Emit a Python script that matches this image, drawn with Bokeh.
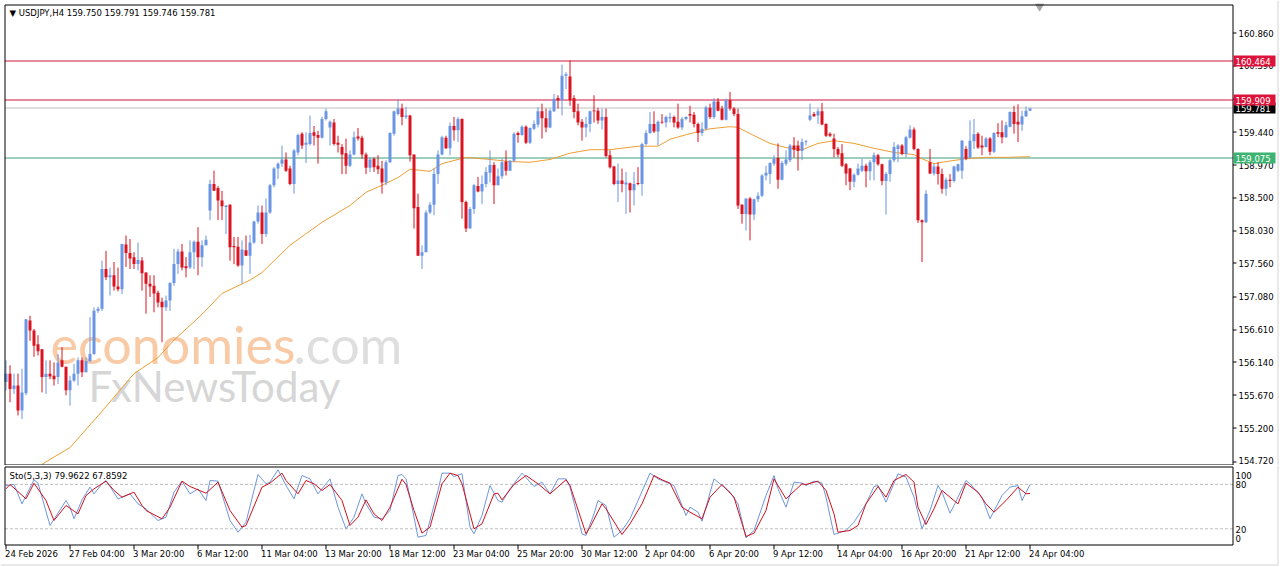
import numpy as np
from bokeh.plotting import figure
from bokeh.models import ColumnDataSource, Range1d
from bokeh.layouts import column
from bokeh.embed import file_html
from bokeh.resources import INLINE
from bokeh.core.properties import value

# ---------------- data (USDJPY H4) ----------------
bar_open = [
155.86,155.98,155.76,155.81,155.45,155.70,156.74,156.60,156.40,156.33,155.93,155.98,155.95,155.93,156.17,156.08,
155.74,155.88,155.98,156.17,156.00,156.16,156.26,156.88,156.91,157.48,157.36,157.39,157.23,157.19,157.83,157.71,
157.65,157.55,157.60,157.43,157.27,157.24,157.14,157.01,156.93,157.03,157.28,157.55,157.73,157.52,157.50,157.72,
157.87,157.65,157.82,158.32,158.70,158.64,158.46,158.37,158.40,157.81,157.80,157.53,157.75,157.67,157.86,158.16,
158.29,157.98,158.29,158.68,158.92,158.99,159.05,158.92,158.70,159.15,159.42,159.26,159.27,159.44,159.40,159.36,
159.63,159.51,159.58,159.29,159.23,159.14,158.96,159.12,159.38,159.36,159.12,158.93,159.06,158.96,158.92,158.72,
159.01,159.42,159.70,159.78,159.66,159.68,159.12,158.37,157.67,157.72,158.29,158.40,158.84,159.12,159.36,159.21,
159.53,159.47,159.63,158.44,158.06,158.34,158.67,158.59,158.70,158.86,158.97,158.68,158.81,159.02,158.89,159.03,
159.43,159.40,159.52,159.29,159.49,159.55,159.74,159.64,159.51,159.74,159.93,159.90,160.25,160.24,159.93,159.74,
159.59,159.51,159.56,159.75,159.75,159.61,159.66,159.11,158.95,158.70,158.75,158.69,158.71,158.61,158.71,158.70,
159.27,159.43,159.56,159.45,159.59,159.58,159.64,159.66,159.59,159.51,159.63,159.70,159.69,159.56,159.43,159.49,
159.79,159.66,159.88,159.78,159.62,159.90,159.78,159.70,158.40,158.27,158.49,158.26,158.48,158.53,158.82,158.84,
158.99,159.07,158.76,158.99,159.04,159.25,159.25,159.17,159.30,159.62,159.70,159.68,159.74,159.56,159.42,159.35,
159.20,159.14,158.98,158.92,158.73,158.83,158.89,158.96,158.88,159.01,159.11,158.98,158.74,158.84,159.04,159.20,
159.25,159.13,159.36,159.48,159.20,158.18,158.15,159.01,158.85,158.95,158.84,158.63,158.76,158.74,158.89,158.89,
159.20,159.08,159.31,159.42,159.25,159.23,159.35,159.16,159.44,159.44,159.37,159.52,159.73,159.59,159.55,159.67,
159.750]
bar_high = [
156.17,156.10,155.98,155.98,156.05,156.76,156.81,156.62,156.53,156.33,156.17,156.17,156.14,156.26,156.36,156.08,
155.95,156.12,156.21,156.21,156.21,156.79,156.93,156.94,157.60,157.74,157.50,157.58,157.50,157.84,157.96,157.91,
157.72,157.86,157.65,157.43,157.39,157.39,157.17,157.07,157.10,157.29,157.77,157.77,157.84,157.65,157.89,157.89,
158.08,157.89,157.96,158.76,158.89,158.67,158.60,158.39,158.41,157.94,157.94,157.89,157.96,157.97,158.17,158.39,
158.39,158.49,158.70,158.94,159.01,159.25,159.15,158.96,159.20,159.42,159.44,159.44,159.68,159.53,159.46,159.66,
159.78,159.61,159.63,159.39,159.27,159.35,159.18,159.45,159.50,159.39,159.15,159.08,159.08,159.11,159.03,159.04,
159.44,159.75,159.91,159.85,159.80,159.69,159.12,158.56,157.82,158.32,158.44,158.92,159.18,159.39,159.39,159.58,
159.66,159.66,159.64,158.46,158.37,158.70,158.80,158.82,158.94,159.18,159.01,158.92,159.06,159.18,159.04,159.44,
159.45,159.54,159.54,159.51,159.61,159.80,159.85,159.78,159.78,159.99,159.97,160.41,160.30,160.47,159.97,159.85,
159.63,159.66,159.75,159.97,159.79,159.78,159.78,159.18,158.96,158.99,158.92,158.87,158.72,158.87,158.94,159.29,
159.47,159.73,159.74,159.61,159.70,159.68,159.72,159.68,159.85,159.66,159.67,159.82,159.73,159.58,159.58,159.82,
159.85,159.93,159.93,159.82,159.92,160.02,159.80,159.78,158.41,158.49,158.51,158.49,158.58,158.84,158.96,159.01,
159.11,159.28,159.03,159.18,159.27,159.37,159.32,159.35,159.33,159.85,159.73,159.78,159.86,159.57,159.44,159.42,
159.23,159.27,159.00,158.93,158.85,158.99,159.06,158.99,159.04,159.15,159.13,158.99,158.87,159.06,159.30,159.27,
159.27,159.39,159.54,159.51,159.21,158.19,158.61,159.20,158.99,159.01,158.92,158.79,158.84,158.96,158.99,159.33,
159.24,159.61,159.63,159.44,159.39,159.37,159.37,159.44,159.57,159.61,159.59,159.74,159.82,159.84,159.75,159.81,
159.791]
bar_low = [
155.74,155.57,155.69,155.38,155.33,155.67,156.45,156.22,156.24,155.71,155.69,155.90,155.81,155.83,156.07,155.67,
155.52,155.86,155.81,155.93,156.00,156.14,156.25,156.85,156.88,157.32,157.10,157.17,157.16,157.12,157.51,157.48,
157.48,157.46,157.17,156.84,157.08,156.86,156.93,156.43,156.88,156.88,157.24,157.41,157.46,157.36,157.48,157.48,
157.39,157.51,157.82,158.18,158.60,158.18,158.18,157.98,157.60,157.55,157.51,157.27,157.67,157.41,157.84,158.13,
157.84,157.94,158.27,158.65,158.77,158.94,158.87,158.68,158.56,159.11,159.20,159.00,159.25,159.25,158.99,159.35,
159.61,159.25,159.25,159.15,158.84,158.84,158.94,159.11,159.32,159.06,158.84,158.87,158.87,158.84,158.56,158.68,
159.00,159.39,159.68,159.54,159.63,159.02,158.06,157.67,157.48,157.72,158.27,158.25,158.70,159.11,159.20,159.11,
159.32,159.30,158.20,158.01,158.06,158.27,158.58,158.41,158.65,158.72,158.41,158.68,158.77,158.82,158.89,159.01,
159.29,159.39,159.27,159.27,159.47,159.51,159.35,159.44,159.50,159.73,159.78,159.68,160.06,159.82,159.64,159.54,
159.32,159.37,159.44,159.58,159.56,159.48,159.08,158.92,158.68,158.44,158.58,158.27,158.29,158.39,158.68,158.53,
159.25,159.42,159.43,159.25,159.56,159.51,159.58,159.51,159.49,159.47,159.61,159.58,159.51,159.30,159.39,159.47,
159.63,159.63,159.74,159.61,159.61,159.75,159.67,158.34,158.13,158.03,157.89,158.18,158.44,158.51,158.75,158.70,
158.96,158.63,158.75,158.96,159.01,159.08,158.89,159.04,159.25,159.60,159.66,159.56,159.54,159.37,159.37,159.08,
159.08,158.94,158.68,158.61,158.65,158.82,158.87,158.65,158.75,158.75,158.96,158.68,158.26,158.73,159.01,159.01,
159.11,159.08,159.35,159.18,158.14,157.58,158.14,158.84,158.82,158.69,158.56,158.53,158.65,158.72,158.87,158.77,
159.04,159.06,159.20,159.20,159.11,159.22,159.11,159.14,159.37,159.28,159.36,159.51,159.42,159.30,159.46,159.66,
159.746]
bar_close = [
155.98,155.76,155.81,155.45,155.71,156.76,156.60,156.38,156.30,155.93,155.98,155.94,155.90,156.14,156.08,155.74,
155.88,155.98,156.17,156.00,156.16,156.26,156.88,156.91,157.48,157.36,157.39,157.23,157.19,157.84,157.71,157.63,
157.55,157.61,157.42,157.27,157.23,157.13,157.00,156.93,157.03,157.28,157.55,157.73,157.50,157.49,157.72,157.87,
157.65,157.82,157.90,158.70,158.60,158.46,158.38,158.39,157.79,157.79,157.53,157.76,157.67,157.86,158.16,158.29,
157.98,158.29,158.68,158.92,158.99,159.05,158.89,158.70,159.18,159.40,159.25,159.29,159.43,159.39,159.36,159.63,
159.74,159.59,159.27,159.26,159.12,158.96,159.12,159.37,159.35,159.12,158.93,159.05,158.94,158.91,158.72,159.01,
159.43,159.74,159.78,159.66,159.68,159.11,158.35,157.67,157.72,158.29,158.40,158.84,159.12,159.37,159.21,159.53,
159.47,159.63,158.44,158.06,158.34,158.68,158.59,158.70,158.87,158.97,158.68,158.81,159.01,158.89,159.03,159.42,
159.40,159.52,159.29,159.50,159.56,159.74,159.64,159.51,159.75,159.92,159.90,160.25,160.27,159.90,159.73,159.58,
159.51,159.56,159.74,159.74,159.61,159.66,159.10,158.94,158.70,158.75,158.70,158.72,158.61,158.70,158.70,159.27,
159.43,159.56,159.45,159.59,159.58,159.66,159.66,159.58,159.51,159.63,159.66,159.68,159.56,159.43,159.49,159.80,
159.66,159.88,159.75,159.62,159.90,159.78,159.70,158.39,158.27,158.49,158.26,158.48,158.53,158.82,158.86,159.00,
159.06,158.76,159.00,159.05,159.25,159.19,159.17,159.30,159.31,159.68,159.67,159.74,159.55,159.39,159.39,159.20,
159.12,158.96,158.85,158.73,158.83,158.92,158.96,158.88,159.01,159.11,158.98,158.74,158.84,159.04,159.23,159.25,
159.13,159.37,159.48,159.20,158.18,158.15,158.56,158.85,158.95,158.84,158.63,158.76,158.74,158.95,158.98,159.32,
159.06,159.32,159.41,159.22,159.22,159.35,159.16,159.43,159.42,159.37,159.54,159.73,159.56,159.55,159.67,159.75,
159.781]

# moving average (bar index, price)
ma_points = [(9,154.68),(11,154.75),(16,154.92),(24,155.44),(32,155.98),(38,156.21),(42,156.46),(49,156.83),
             (54,157.13),(61,157.32),(64,157.43),(71,157.82),(79,158.15),(86,158.39),(90,158.58),(94,158.68),
             (98,158.79),(101,158.91),(106,158.88),(109,158.99),(115,159.08),(121,159.05),(126,159.02),
             (131,159.01),(136,159.05),(141,159.14),(146,159.19),(151,159.19),(158,159.24),(163,159.24),
             (166,159.34),(171,159.42),(176,159.49),(181,159.52),(183,159.51),(186,159.42),(191,159.28),
             (195,159.22),(199,159.19),(203,159.28),(207,159.32),(212,159.28),(217,159.21),(222,159.15),
             (227,159.12),(229,159.06),(232,158.99),(235,159.02),(240,159.06),(245,159.08),(250,159.08),(256,159.09)]

# stochastic (5,3,3): main (%K, blue) and signal (%D, red) vertices
sto_main = [(0,78.5),(2,79.9),(4,53.7),(7,86.2),(8,81.7),(11,24.5),(15,58.2),(16,49.2),(17,33.5),(19,59.1),
            (21,76.3),(22,67.2),(24,80.8),(25,85.3),(28,60.5),(31,67.2),(33,53.7),(35,47.0),(38,31.2),(40,35.7),
            (42,69.5),(44,84.4),(46,67.2),(48,74.0),(50,58.2),(51,85.3),(53,84.4),(56,31.2),(58,15.4),(60,29.0),
            (63,93.4),(65,80.8),(66,83.0),(68,99.7),(70,78.5),(72,60.5),(74,92.0),(76,87.5),(78,67.2),(80,80.8),
            (81,87.5),(83,49.2),(85,20.0),(87,35.7),(89,67.2),(90,53.7),(92,35.7),(94,33.5),(96,44.7),(98,92.0),
            (99,93.4),(100,87.5),(101,62.7),(103,8.7),(105,11.0),(108,71.8),(109,95.2),(111,95.2),(112,90.7),
            (114,94.3),(116,22.2),(117,13.2),(119,38.0),(121,78.5),(123,58.2),(124,56.0),(126,74.0),(129,95.2),
            (132,77.2),(134,83.0),(136,67.2),(138,87.5),(140,87.5),(141,76.3),(144,13.2),(145,11.0),(147,40.2),
            (148,58.2),(150,51.5),(152,8.7),(154,17.7),(156,33.5),(158,58.2),(161,95.2),(163,87.5),(165,83.0),
            (167,78.5),(170,38.0),(171,49.2),(173,42.5),(174,30.3),(177,87.5),(179,78.5),(181,69.5),(183,53.7),
            (185,7.8),(187,17.7),(190,65.0),(192,92.0),(193,74.0),(195,49.2),(197,83.0),(199,81.7),(200,78.5),
            (202,84.4),(204,81.7),(205,62.7),(207,12.3),(210,17.7),(212,29.0),(215,53.7),(217,77.2),(218,78.5),
            (220,56.0),(223,94.3),(225,89.8),(227,62.7),(229,20.0),(231,44.7),(233,78.5),(234,69.5),(236,41.1),
            (237,51.5),(240,85.3),(241,80.8),(244,62.7),(246,33.5),(249,65.0),(251,76.3),(253,78.5),(254,58.2),
            (256,79.9622)]
sto_signal = [(0,74.0),(1,79.9),(5,60.5),(7,81.7),(10,58.2),(12,31.2),(15,51.5),(18,40.2),(20,65.0),(22,74.0),
              (25,84.4),(27,71.8),(29,62.7),(32,69.5),(34,51.5),(35,44.7),(39,33.5),(41,49.2),(44,84.4),(46,77.2),
              (50,68.1),(53,83.0),(56,44.7),(59,22.2),(60,24.5),(64,76.3),(66,81.7),(69,95.2),(70,85.3),(73,67.2),
              (75,85.3),(77,80.8),(79,71.8),(81,79.9),(84,58.2),(86,24.5),(88,35.7),(90,59.1),(92,40.2),(94,31.2),
              (96,49.2),(99,87.0),(100,79.9),(102,44.7),(104,14.1),(106,22.2),(109,80.8),(111,95.2),(113,92.0),
              (114,80.8),(117,20.0),(119,26.7),(122,67.2),(123,68.1),(124,59.1),(127,79.9),(130,92.0),(133,80.8),
              (136,67.2),(140,86.2),(141,78.5),(145,13.2),(146,22.2),(149,53.7),(150,47.0),(154,12.3),(156,26.7),
              (159,53.7),(162,92.0),(164,86.2),(166,81.7),(169,49.2),(171,42.5),(174,33.5),(176,62.7),(179,79.9),
              (182,62.7),(185,9.6),(187,14.1),(190,44.7),(192,87.5),(195,60.5),(199,80.8),(200,79.9),(203,84.4),
              (205,71.8),(207,40.2),(208,15.4),(211,17.7),(213,24.5),(215,53.7),(218,77.2),(220,62.7),(222,85.3),
              (225,93.4),(227,83.0),(228,49.2),(230,25.8),(232,47.0),(234,71.8),(236,62.7),(238,53.7),(240,81.7),
              (243,69.5),(245,53.7),(247,42.5),(250,58.2),(253,76.3),(255,67.2),(256,67.8592)]

# horizontal levels
level_red = [160.464, 159.909]
level_green = [159.075]
last_price = 159.781

price_ticks = [160.860, 160.390, 159.920, 159.440, 158.970, 158.500, 158.030, 157.560,
               157.080, 156.610, 156.140, 155.670, 155.200, 154.720]
date_tick_idx = [0, 16, 32, 48, 64, 80, 96, 112, 128, 144, 160, 176, 192, 208, 224, 240, 256]
date_tick_labels = ["24 Feb 2026", "27 Feb 04:00", "3 Mar 20:00", "6 Mar 12:00", "11 Mar 04:00",
                    "13 Mar 20:00", "18 Mar 12:00", "23 Mar 04:00", "25 Mar 20:00", "30 Mar 12:00",
                    "2 Apr 04:00", "6 Apr 20:00", "9 Apr 12:00", "14 Apr 04:00", "16 Apr 20:00",
                    "21 Apr 12:00", "24 Apr 04:00"]
sto_levels = [80, 20]
sto_scale_labels = ["100", "80", "20", "0"]

# ---------------- layout constants (pixels of the 1280x567 page) ----------------
BULL = "#6A95E3"
BEAR = "#DA1420"
FONT = value("DejaVu Sans")
FS = value("8.5px")
W = 1280
MAIN_H = 465
STO_H = 102
PX0, BAR_PX = 5.5, 4.0                         # centre of bar 0, bar spacing
Y_REF_PX, Y_REF_P, PX_PER_P = 32.7, 160.86, 69.76
L_PX, R_PX = 4.5, 1232.5                       # plot box left / right


def bx(px):
    return (px - PX0) / BAR_PX


def py(px):
    return Y_REF_P - (px - Y_REF_PX) / PX_PER_P


def ypx(price):
    return Y_REF_PX + (Y_REF_P - price) * PX_PER_P


def snap(price):                               # price drawn on a pixel centre
    return py(np.floor(ypx(price)) + 0.5)


def sv(px):                                    # stochastic value at page y (px)
    return (543.1 - px) / 0.74


n = len(bar_close)
idx = np.arange(n)
o = np.array(bar_open); c = np.array(bar_close); h = np.array(bar_high); l = np.array(bar_low)
up = c >= o
top = np.maximum(o, c)
bot = np.minimum(o, c)
top = np.maximum(top, bot + 0.012)

x_rng = Range1d(bx(0), bx(W))

# ================= main price panel =================
p = figure(width=W, height=MAIN_H, x_range=x_rng, y_range=Range1d(py(MAIN_H), py(0)),
           min_border=0, x_axis_location=None, y_axis_location=None, outline_line_color=None,
           output_backend="svg", toolbar_location=None, background_fill_color="white",
           border_fill_color="white")
p.grid.visible = False

# watermark
p.text(x=[bx(50)], y=[py(343)], text=["economies"], text_font=value("Lato"),
       text_font_size=value("52px"), text_color="#F8CAA6", text_baseline="middle")
p.text(x=[bx(293)], y=[py(343)], text=[".com"], text_font=value("Lato"),
       text_font_size=value("52px"), text_color="#DEDEDE", text_baseline="middle")
p.text(x=[bx(88)], y=[py(385)], text=["FxNewsToday"], text_font=value("Lato"),
       text_font_size=value("42px"), text_color="#D6D6D6", text_baseline="middle")

# level lines
for lv in level_red:
    p.segment(x0=[bx(L_PX)], x1=[bx(R_PX)], y0=[snap(lv)], y1=[snap(lv)], line_color="#D0143C", line_width=1)
p.segment(x0=[bx(L_PX)], x1=[bx(R_PX)], y0=[snap(last_price)], y1=[snap(last_price)],
          line_color="#C0C0C0", line_width=1)
for lv in level_green:
    p.segment(x0=[bx(L_PX)], x1=[bx(R_PX)], y0=[snap(lv)], y1=[snap(lv)], line_color="#3C9E78", line_width=1)

# moving average
p.line([q[0] for q in ma_points], [q[1] for q in ma_points], line_color="#EE9E35", line_width=1)

# candles
for mask, col in [(up, BULL), (~up, BEAR)]:
    src = ColumnDataSource(dict(x=idx[mask], top=top[mask], bot=bot[mask], h=h[mask], l=l[mask]))
    p.segment(x0="x", y0="l", x1="x", y1="h", source=src, line_color=col, line_width=1)
    p.vbar(x="x", top="top", bottom="bot", width=0.75, source=src, fill_color=col, line_color=None)

# shift marker
p.scatter([n + 1.4], [py(6)], marker="inverted_triangle", size=8, color="#A8A8A8")

# header
p.text(x=[bx(9)], y=[py(12)], text=["\u25BC USDJPY,H4  159.750 159.791 159.746 159.781"],
       text_font=FONT, text_font_size=FS, text_color="black", text_baseline="middle")

# plot box
p.line([bx(L_PX), bx(R_PX), bx(R_PX), bx(L_PX), bx(L_PX)],
       [py(4.5), py(4.5), py(464.5), py(464.5), py(4.5)], line_color="black", line_width=1)

# price scale (right)
tick_y = [snap(t) for t in price_ticks]
label_y = [min(ypx(t), 459.5) for t in price_ticks]
p.segment(x0=[bx(R_PX)] * len(price_ticks), x1=[bx(1236)] * len(price_ticks),
          y0=tick_y, y1=tick_y, line_color="black", line_width=1)
p.text(x=[bx(1238)] * len(price_ticks), y=[py(v) for v in label_y], text=[f"{t:.3f}" for t in price_ticks],
       text_font=FONT, text_font_size=FS, text_color="black", text_baseline="middle", text_align="left")

# price boxes (last price first, so the 159.909 box sits on top of it as in the original)
for lv, bg in [(last_price, "#000000"), (level_red[0], "#DC143C"), (level_red[1], "#DC143C"),
               (level_green[0], "#3CB371")]:
    yc = np.floor(ypx(lv)) + 0.5
    p.quad(left=[bx(1233)], right=[bx(1275)], top=[py(yc - 5.5)], bottom=[py(yc + 5.5)],
           fill_color=bg, line_color=None)
    p.text(x=[bx(1235)], y=[py(yc)], text=[f"{lv:.3f}"], text_font=FONT, text_font_size=FS,
           text_color="white", text_baseline="middle", text_align="left")

# window edge
p.segment(x0=[bx(1277.5)], x1=[bx(1277.5)], y0=[py(0)], y1=[py(MAIN_H)], line_color="#D4D4D4")

# ================= stochastic panel =================
s = figure(width=W, height=STO_H, x_range=x_rng, y_range=Range1d(sv(567), sv(465)),
           min_border=0, x_axis_location=None, y_axis_location=None, outline_line_color=None,
           output_backend="svg", toolbar_location=None, background_fill_color="white",
           border_fill_color="white")
s.grid.visible = False

for lv in sto_levels:
    s.segment(x0=[bx(L_PX)], x1=[bx(R_PX)], y0=[lv], y1=[lv], line_color="#BEBEBE",
              line_width=1, line_dash="3 2")

s.line([q[0] for q in sto_main], [q[1] for q in sto_main], line_color="#6E96DC", line_width=1)
s.line([q[0] for q in sto_signal], [q[1] for q in sto_signal], line_color="#D0101C", line_width=1)

s.text(x=[bx(9)], y=[sv(475)], text=["Sto(5,3,3) 79.9622 67.8592"], text_font=FONT,
       text_font_size=FS, text_color="black", text_baseline="middle")

# plot box
s.line([bx(L_PX), bx(R_PX), bx(R_PX), bx(L_PX), bx(L_PX)],
       [sv(466.5), sv(466.5), sv(544.5), sv(544.5), sv(466.5)], line_color="black", line_width=1)

# scale labels on the right
s.text(x=[bx(1235)] * 4, y=[sv(474.5), sv(483.5), sv(528.5), sv(537.5)], text=sto_scale_labels,
       text_font=FONT, text_font_size=FS, text_color="black", text_baseline="middle", text_align="left")

# time axis
nt = len(date_tick_idx)
s.segment(x0=date_tick_idx, x1=date_tick_idx, y0=[sv(544.5)] * nt, y1=[sv(549)] * nt,
          line_color="black", line_width=1)
s.text(x=date_tick_idx, y=[sv(553)] * nt, text=date_tick_labels, x_offset=-1,
       text_font=FONT, text_font_size=FS, text_color="black", text_baseline="middle", text_align="left")

# window edge
s.segment(x0=[bx(1277.5)], x1=[bx(1277.5)], y0=[sv(465)], y1=[sv(564.5)], line_color="#D4D4D4")
s.segment(x0=[bx(0)], x1=[bx(1277.5)], y0=[sv(564.5)], y1=[sv(564.5)], line_color="#D4D4D4")

layout = column(p, s, spacing=0)
open("out.html", "w").write(file_html(layout, INLINE))
